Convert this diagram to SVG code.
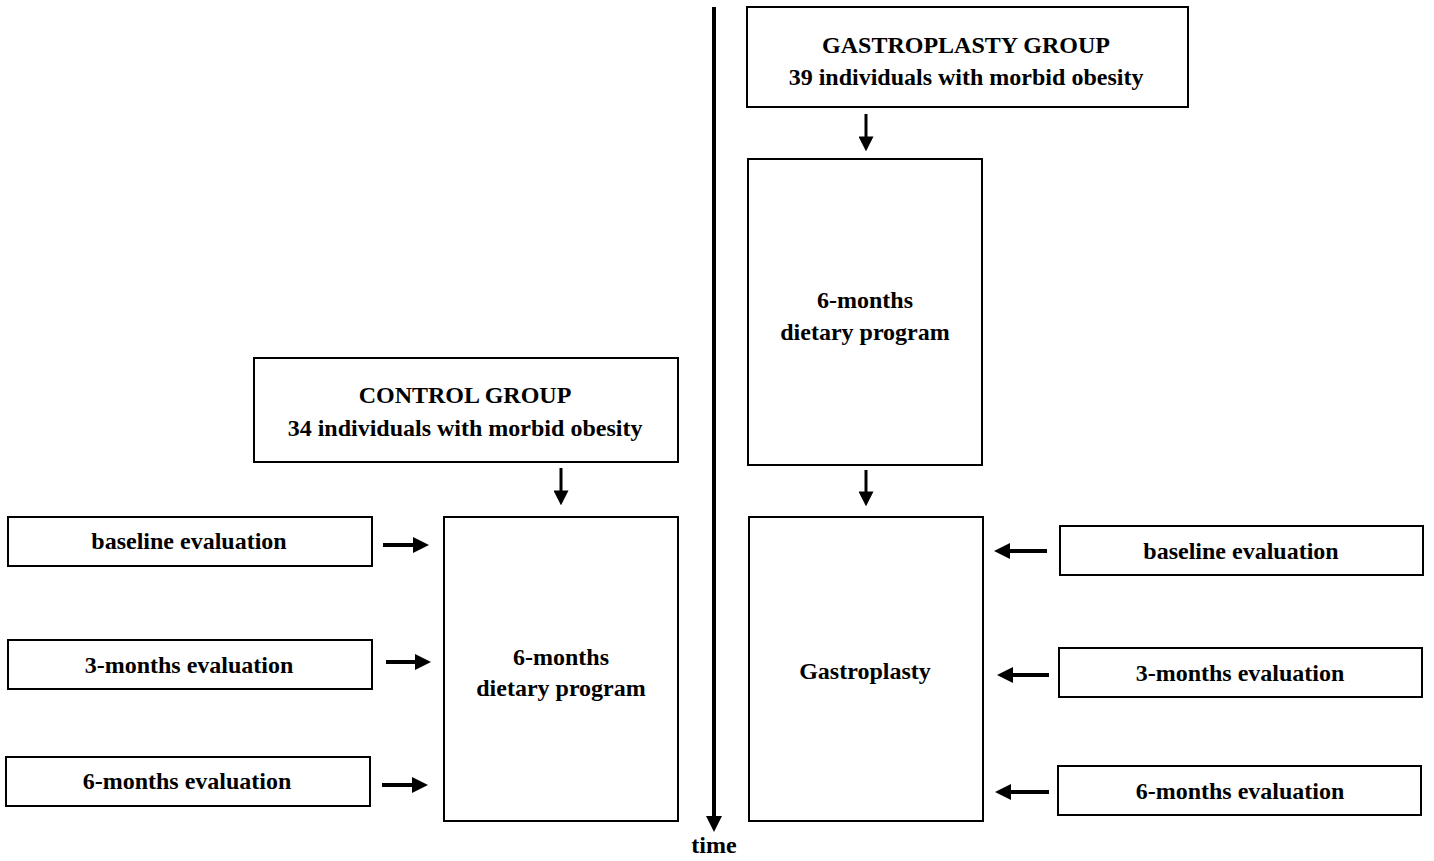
<svg xmlns="http://www.w3.org/2000/svg" width="1434" height="861" viewBox="0 0 1434 861">
<style>
.box{fill:#fff;stroke:#000;stroke-width:2}
.t{font-family:"Liberation Serif","Times New Roman",serif;font-weight:bold;font-size:24px;fill:#000;text-anchor:middle}
.h{stroke:#000;stroke-width:4;fill:none}
.v{stroke:#000;stroke-width:3;fill:none}
</style>
<defs>
<marker id="ah" viewBox="0 0 16 16" markerUnits="userSpaceOnUse" markerWidth="16" markerHeight="16" refX="6" refY="8" orient="auto">
<path d="M0,0 L16,8 L0,16 z" fill="#000"/>
</marker>
<marker id="av" viewBox="0 0 16 16" markerUnits="userSpaceOnUse" markerWidth="15" markerHeight="15" refX="6" refY="8" orient="auto">
<path d="M0,0 L16,8 L0,16 z" fill="#000"/>
</marker>
</defs>
<rect width="1434" height="861" fill="#fff"/>

<g id="connectors">
<line class="h" x1="714" y1="7" x2="714" y2="822" marker-end="url(#ah)"/>
<line class="v" x1="866" y1="114" x2="866" y2="142" marker-end="url(#av)"/>
<line class="v" x1="866" y1="470" x2="866" y2="497" marker-end="url(#av)"/>
<line class="v" x1="561" y1="468" x2="561" y2="496" marker-end="url(#av)"/>
<line class="h" x1="383" y1="545" x2="419" y2="545" marker-end="url(#ah)"/>
<line class="h" x1="386" y1="662" x2="421" y2="662" marker-end="url(#ah)"/>
<line class="h" x1="382" y1="785" x2="418" y2="785" marker-end="url(#ah)"/>
<line class="h" x1="1047" y1="551" x2="1004" y2="551" marker-end="url(#ah)"/>
<line class="h" x1="1049" y1="675" x2="1007" y2="675" marker-end="url(#ah)"/>
<line class="h" x1="1049" y1="792" x2="1005" y2="792" marker-end="url(#ah)"/>
</g>
<text class="t" x="714" y="853">time</text>

<g id="gastro-group">
<rect class="box" x="747" y="7" width="441" height="100"/>
<text class="t" x="966" y="53">GASTROPLASTY GROUP</text>
<text class="t" x="966" y="85">39 individuals with morbid obesity</text>
</g>
<g id="gastro-diet">
<rect class="box" x="748" y="159" width="234" height="306"/>
<text class="t" x="865" y="308">6-months</text>
<text class="t" x="865" y="340">dietary program</text>
</g>
<g id="gastroplasty">
<rect class="box" x="749" y="517" width="234" height="304"/>
<text class="t" x="865" y="679">Gastroplasty</text>
</g>
<g id="control-group">
<rect class="box" x="254" y="358" width="424" height="104"/>
<text class="t" x="465" y="403">CONTROL GROUP</text>
<text class="t" x="465" y="436">34 individuals with morbid obesity</text>
</g>
<g id="control-diet">
<rect class="box" x="444" y="517" width="234" height="304"/>
<text class="t" x="561" y="665">6-months</text>
<text class="t" x="561" y="696">dietary program</text>
</g>
<g id="l-baseline">
<rect class="box" x="8" y="517" width="364" height="49"/>
<text class="t" x="189" y="549">baseline evaluation</text>
</g>
<g id="l-3m">
<rect class="box" x="8" y="640" width="364" height="49"/>
<text class="t" x="189" y="673">3-months evaluation</text>
</g>
<g id="l-6m">
<rect class="box" x="6" y="757" width="364" height="49"/>
<text class="t" x="187" y="789">6-months evaluation</text>
</g>
<g id="r-baseline">
<rect class="box" x="1060" y="526" width="363" height="49"/>
<text class="t" x="1241" y="559">baseline evaluation</text>
</g>
<g id="r-3m">
<rect class="box" x="1059" y="648" width="363" height="49"/>
<text class="t" x="1240" y="681">3-months evaluation</text>
</g>
<g id="r-6m">
<rect class="box" x="1058" y="766" width="363" height="49"/>
<text class="t" x="1240" y="799">6-months evaluation</text>
</g>
</svg>
